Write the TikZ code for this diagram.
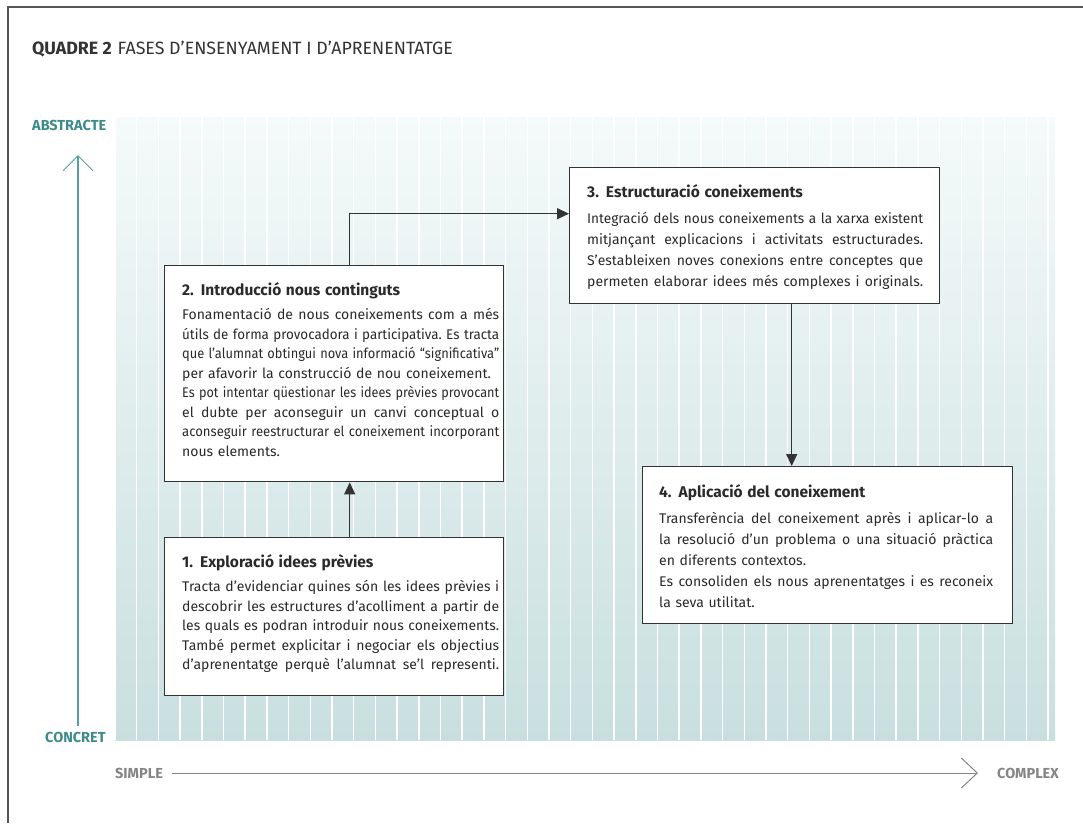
\documentclass[tikz,border=0pt]{standalone}
\usepackage{fontspec}
\setmainfont{Fira Sans}
\usepackage{graphicx}
\usetikzlibrary{arrows.meta,positioning}

\definecolor{tealtext}{HTML}{3E8A8B}
\definecolor{tealaxis}{HTML}{5B9EA1}
\definecolor{axisgray}{HTML}{858585}
\definecolor{boxline}{HTML}{333333}
\definecolor{bodytext}{HTML}{2A2A2A}
\definecolor{titlegray}{HTML}{333333}
\definecolor{bgtop}{HTML}{F5FAFA}
\definecolor{bgbottom}{HTML}{C9DFDF}
\definecolor{framegray}{HTML}{555555}

% one justified line of a phase text (squeezed if too long)
\newsavebox\phaseline
\newcommand\jl[1]{\sbox\phaseline{\frenchspacing#1}\noindent\ifdim\wd\phaseline>\hsize\resizebox{\hsize}{\height}{\usebox\phaseline}\else\makebox[\hsize][s]{\frenchspacing\spaceskip=\fontdimen2\font plus 1fil\relax #1}\fi\par}
\newcommand\rl[1]{\noindent#1\par}
\newcommand\phasetitle[1]{\noindent{\fontsize{15.5}{18}\selectfont\bfseries #1\par}\vskip5pt}

\begin{document}
\begin{tikzpicture}[x=1pt,y=-1pt,>={Triangle[length=12pt,width=11pt]},
    phase/.style={draw=boxline,line width=1.4pt,fill=white,anchor=north west,inner sep=0pt},
    phasetext/.style={anchor=north west,inner sep=0pt,text width=#1,text=bodytext,font=\fontsize{14}{19.5}\selectfont},
    link/.style={->,draw=boxline,line width=1.4pt},
    axislabel/.style={font=\fontsize{14.5}{16}\selectfont\bfseries,inner sep=0pt,anchor=west}]
    \useasboundingbox (0,0) rectangle (1083,823);
    \draw[framegray,line width=2.5pt] (8,823) -- (8,7) -- (1083,7);

    \node[anchor=base west,inner sep=0pt,text=titlegray,font=\fontsize{17.8}{20}\selectfont] (title) at (32,54)
      {\textbf{QUADRE 2}\hspace{6pt}FASES D’ENSENYAMENT I D’APRENENTATGE};

    % background columns
    \shade[top color=bgtop,bottom color=bgbottom] (115,117) rectangle (1055,740);
    \foreach \k in {0,...,43}
      \draw[white,line width=1.5pt] (115+\k*21.7,117) -- (115+\k*21.7,740);

    % axes
    \node[axislabel,text=tealtext] (abstr) at (32,125) {ABSTRACTE};
    \node[axislabel,text=tealtext] (concr) at (45,737) {CONCRET};
    \coordinate (vbase) at (78,726);
    \coordinate (vtip) at (78,155);
    \draw[tealaxis,line width=1.5pt,-{Straight Barb[length=15pt,width=30pt,line width=1pt]}] (vbase) -- (vtip);
    \node[axislabel,text=axisgray] (simple) at (115,773) {SIMPLE};
    \node[axislabel,text=axisgray] (complex) at (997,773) {COMPLEX};
    \coordinate (htip) at (978,773);
    \draw[axisgray,line width=1pt,-{Straight Barb[length=16pt,width=30pt]}] ([xshift=9pt]simple.east) -- (htip);

    % phases
    \node[phase,minimum width=339pt,minimum height=158pt] (p1) at (164,537) {};
    \node[phase,minimum width=339pt,minimum height=216pt] (p2) at (164,265) {};
    \node[phase,minimum width=370pt,minimum height=136pt] (p3) at (569,167) {};
    \node[phase,minimum width=370pt,minimum height=157pt] (p4) at (642,466) {};

    \node[phasetext=317pt] (t1) at ([shift={(18pt,-17pt)}]p1.north west) {%
      \phasetitle{1. Exploració idees prèvies}
      \jl{Tracta d’evidenciar quines són les idees prèvies i}
      \jl{descobrir les estructures d’acolliment a partir de}
      \jl{les quals es podran introduir nous coneixements.}
      \jl{També permet explicitar i negociar els objectius}
      \jl{d’aprenentatge perquè l’alumnat se’l representi.}};
    \node[phasetext=317pt] (t2) at ([shift={(18pt,-17pt)}]p2.north west) {%
      \phasetitle{2. Introducció nous continguts}
      \jl{Fonamentació de nous coneixements com a més}
      \jl{útils de forma provocadora i participativa. Es tracta}
      \jl{que l’alumnat obtingui nova informació “significativa”}
      \rl{per afavorir la construcció de nou coneixement.}
      \jl{Es pot intentar qüestionar les idees prèvies provocant}
      \jl{el dubte per aconseguir un canvi conceptual o}
      \jl{aconseguir reestructurar el coneixement incorporant}
      \rl{nous elements.}};
    \node[phasetext=336pt,font=\fontsize{14}{21}\selectfont] (t3) at ([shift={(18pt,-17pt)}]p3.north west) {%
      \phasetitle{3. Estructuració coneixements}
      \jl{Integració dels nous coneixements a la xarxa existent}
      \jl{mitjançant explicacions i activitats estructurades.}
      \jl{S’estableixen noves conexions entre conceptes que}
      \jl{permeten elaborar idees més complexes i originals.}};
    \node[phasetext=334pt,font=\fontsize{14}{21}\selectfont] (t4) at ([shift={(17pt,-18pt)}]p4.north west) {%
      \phasetitle{4. Aplicació del coneixement}
      \jl{Transferència del coneixement après i aplicar-lo a}
      \jl{la resolució d’un problema o una situació pràctica}
      \rl{en diferents contextos.}
      \jl{Es consoliden els nous aprenentatges i es reconeix}
      \rl{la seva utilitat.}};

    % flow between phases
    \draw[link] ([xshift=15.5pt]p1.north) -- ([xshift=15.5pt]p2.south);
    \draw[link] ([xshift=15.5pt]p2.north) |- ([yshift=22pt]p3.west);
    \draw[link] ([xshift=37pt]p3.south) -- ([xshift=37pt]p3.south |- p4.north);
\end{tikzpicture}
\end{document}
